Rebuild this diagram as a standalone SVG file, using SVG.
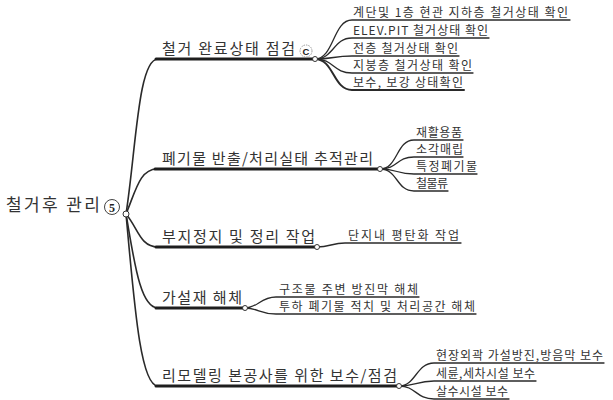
<svg xmlns="http://www.w3.org/2000/svg" width="613" height="400" viewBox="0 0 613 400">
<style>
.root{font-family:"Noto Sans CJK KR","Noto Sans",sans-serif;font-size:17px;fill:#333}
.br{font-family:"Noto Sans CJK KR","Noto Sans",sans-serif;font-size:15px;fill:#333}
.ch{font-family:"Noto Sans CJK KR","Noto Sans",sans-serif;font-size:12px;fill:#333}
.conn{fill:none;stroke:#2a2a2a;stroke-width:1.6;stroke-linecap:round}
.bline{fill:none;stroke:#1e1e1e;stroke-width:3;stroke-linecap:round}
.cline{fill:none;stroke:#2a2a2a;stroke-width:1.3;stroke-linecap:round}
.jn{fill:#fff;stroke:#333;stroke-width:1}
</style>
<g id="connectors">
<path class="conn" d="M126,214 C136,150 138,59 158,59"/>
<path class="conn" d="M126,214 C136,190 140,169 157,169"/>
<path class="conn" d="M126,214 C138,228 140,247 158,247"/>
<path class="conn" d="M126,214 C134,260 140,308 158,308"/>
<path class="conn" d="M126,214 C134,300 140,386 158,386"/>
<path class="cline" d="M315,59 C334,59 333,20 352,20 L570,20"/>
<path class="cline" d="M315,59 C334,59 333,38 352,38 L489,38"/>
<path class="cline" d="M315,59 C334,59 333,56 352,56 L459,56"/>
<path class="cline" d="M315,59 C334,59 333,73 352,73 L473,73"/>
<path class="cline" d="M315,59 C334,59 333,90 352,90 L464,90" style="stroke-width:2"/>
<path class="cline" d="M380,169 C398,169 396,140 414,140 L463,140"/>
<path class="cline" d="M380,169 C398,169 396,157 414,157 L463,157"/>
<path class="cline" d="M380,169 C398,169 396,174 414,174 L477,174"/>
<path class="cline" d="M380,169 C398,169 396,191 414,191 L448,191"/>
<path class="cline" d="M317,247 C330,247 332,243 345,243 L461,243"/>
<path class="cline" d="M245,308 C258,308 260,297 276,297 L419,297"/>
<path class="cline" d="M245,308 C258,308 260,314 276,314 L476,314"/>
<path class="cline" d="M399,386 C416,386 416,363 434,363 L604,363"/>
<path class="cline" d="M399,386 C416,386 416,381 434,381 L536,381"/>
<path class="cline" d="M399,386 C416,386 416,399 434,399 L509,399"/>
</g>
<g id="root">
<text class="root" x="6" y="211" textLength="94" lengthAdjust="spacing">철거후 관리</text>
<circle cx="112" cy="207" r="7.5" fill="#fff" stroke="#444" stroke-width="1"/>
<text x="112" y="211.5" text-anchor="middle" font-family="Liberation Serif,serif" font-weight="bold" font-size="12" fill="#222">5</text>
<circle class="jn" cx="126" cy="214" r="3"/>
</g>
<g id="b1">
<path class="bline" d="M156,59 L315,59"/>
<text class="br" x="162" y="54" textLength="133" lengthAdjust="spacing">철거 완료상태 점검</text>
<circle cx="306" cy="51" r="6" fill="#fff" stroke="#999" stroke-width="1" stroke-dasharray="1.5 1"/>
<text x="306" y="54.5" text-anchor="middle" font-family="Liberation Sans,sans-serif" font-weight="bold" font-size="9.5" fill="#222">C</text>
<circle class="jn" cx="315" cy="59" r="2.5"/>
</g>
<g id="b1c1"><text class="ch" x="353" y="17" textLength="215" lengthAdjust="spacing">계단및 1층 현관 지하층 철거상태 확인</text></g>
<g id="b1c2"><text class="ch" x="353" y="35" textLength="135" lengthAdjust="spacing">ELEV.PIT 철거상태 확인</text></g>
<g id="b1c3"><text class="ch" x="353" y="53" textLength="105" lengthAdjust="spacing">전층 철거상태 확인</text></g>
<g id="b1c4"><text class="ch" x="353" y="70" textLength="119" lengthAdjust="spacing">지붕층 철거상태 확인</text></g>
<g id="b1c5"><text class="ch" x="353" y="87" textLength="110" lengthAdjust="spacing">보수, 보강 상태확인</text></g>
<g id="b2">
<path class="bline" d="M155,169 L380,169"/>
<text class="br" x="162" y="164" textLength="211" lengthAdjust="spacing">폐기물 반출/처리실태 추적관리</text>
<circle class="jn" cx="380" cy="169" r="2.5"/>
</g>
<g id="b2c1"><text class="ch" x="416" y="137" textLength="46" lengthAdjust="spacing">재활용품</text></g>
<g id="b2c2"><text class="ch" x="416" y="154" textLength="47" lengthAdjust="spacing">소각매립</text></g>
<g id="b2c3"><text class="ch" x="416" y="171" textLength="61" lengthAdjust="spacing">특정폐기물</text></g>
<g id="b2c4"><text class="ch" x="416" y="188" textLength="32" lengthAdjust="spacing">철물류</text></g>
<g id="b3">
<path class="bline" d="M156,247 L317,247"/>
<text class="br" x="162" y="242" textLength="153" lengthAdjust="spacing">부지정지 및 정리 작업</text>
<circle class="jn" cx="317" cy="247" r="2.5"/>
</g>
<g id="b3c1"><text class="ch" x="348" y="240" textLength="111" lengthAdjust="spacing">단지내 평탄화 작업</text></g>
<g id="b4">
<path class="bline" d="M156,308 L245,308"/>
<text class="br" x="162" y="303" textLength="80" lengthAdjust="spacing">가설재 해체</text>
<circle class="jn" cx="245" cy="308" r="2.5"/>
</g>
<g id="b4c1"><text class="ch" x="279" y="294" textLength="139" lengthAdjust="spacing">구조물 주변 방진막 해체</text></g>
<g id="b4c2"><text class="ch" x="279" y="311" textLength="196" lengthAdjust="spacing">투하 폐기물 적치 및 처리공간 해체</text></g>
<g id="b5">
<path class="bline" d="M156,386 L399,386"/>
<text class="br" x="162" y="381" textLength="235" lengthAdjust="spacing">리모델링 본공사를 위한 보수/점검</text>
<circle class="jn" cx="399" cy="386" r="2.5"/>
</g>
<g id="b5c1"><text class="ch" x="436" y="360" textLength="167" lengthAdjust="spacing">현장외곽 가설방진,방음막 보수</text></g>
<g id="b5c2"><text class="ch" x="436" y="378" textLength="99" lengthAdjust="spacing">세륜,세차시설 보수</text></g>
<g id="b5c3"><text class="ch" x="436" y="396" textLength="72" lengthAdjust="spacing">살수시설 보수</text></g>
</svg>
